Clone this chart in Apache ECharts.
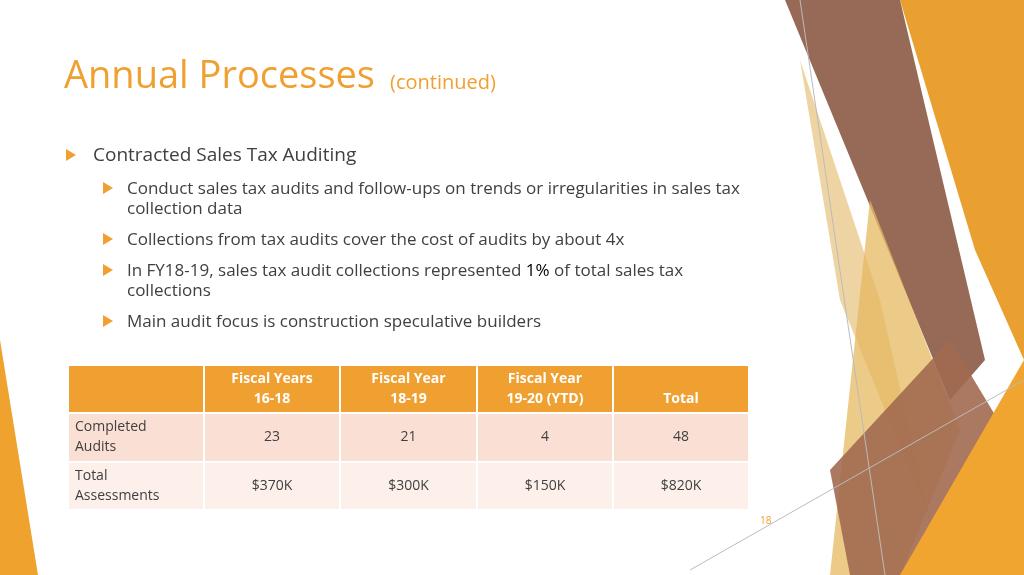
<!DOCTYPE html>
<html><head><meta charset="utf-8">
<script src="https://cdn.jsdelivr.net/npm/echarts@6/dist/echarts.min.js"></script>
<style>html,body{margin:0;padding:0;background:#fff}#c{width:1024px;height:575px}</style>
</head><body><div id="c"></div>
<script>
var headers = ['', 'Fiscal Years\n16-18', 'Fiscal Year\n18-19', 'Fiscal Year\n19-20 (YTD)', 'Total'];
var rowLabels = ['Completed\nAudits', 'Total\nAssessments'];
var audits = ['23', '21', '4', '48'];
var assessments = ['$370K', '$300K', '$150K', '$820K'];
var bullets = [
  { level: 0, text: 'Contracted Sales Tax Auditing' },
  { level: 1, text: 'Conduct sales tax audits and follow-ups on trends or irregularities in sales tax\ncollection data' },
  { level: 1, text: 'Collections from tax audits cover the cost of audits by about 4x' },
  { level: 1, text: 'In FY18-19, sales tax audit collections represented {k|1%} of total sales tax\ncollections' },
  { level: 1, text: 'Main audit focus is construction speculative builders' }
];

var chart = echarts.init(document.getElementById('c'));
var orange = '#F0A030', font = '"Open Sans", "Noto Sans", sans-serif';
var g = [];

// decorative shapes
function poly(pts, fill, op) {
  g.push({ type: 'polygon', shape: { points: pts }, style: { fill: fill, opacity: op || 1 }, silent: true });
}
poly([[0, 340], [38, 575], [0, 575]], '#EFA22E');
poly([[900, 0], [1024, 0], [1024, 360], [975, 250]], '#E9A030');
poly([[785, 0], [900, 0], [985, 360], [950, 400]], '#8B5A45', 0.9);
poly([[800, 60], [880, 300], [930, 520], [840, 300]], '#E7C27A', 0.7);
poly([[870, 200], [960, 430], [900, 575], [830, 575]], '#E6B860', 0.75);
poly([[830, 470], [950, 340], [1010, 440], [920, 575], [850, 575]], '#A26A50', 0.9);
poly([[900, 575], [1024, 360], [1024, 575]], '#EFA530');
g.push({ type: 'line', shape: { x1: 690, y1: 570, x2: 1024, y2: 380 }, style: { stroke: '#bbb', lineWidth: 1 }, silent: true });
g.push({ type: 'line', shape: { x1: 800, y1: 0, x2: 885, y2: 575 }, style: { stroke: '#bbb', lineWidth: 1 }, silent: true });

// title
g.push({ type: 'text', left: 64, top: 58, style: { text: 'Annual Processes', fill: orange, font: '38px ' + font } });
g.push({ type: 'text', left: 390, top: 73, style: { text: '(continued)', fill: orange, font: '20px ' + font } });

// bullets
var y = 148;
bullets.forEach(function (b, i) {
  var tx = b.level ? 103 : 66, x = b.level ? 127 : 93, size = b.level ? 17 : 19;
  g.push({ type: 'polygon', shape: { points: [[tx, y + 1], [tx + 10, y + 7], [tx, y + 13]] }, style: { fill: orange } });
  g.push({ type: 'text', x: x, y: y - 2, style: {
    text: b.text, fill: '#404040', font: size + 'px ' + font, lineHeight: 20,
    rich: { k: { fill: '#000', font: size + 'px ' + font } } } });
  var lines = b.text.split('\n').length;
  y += (i === 0 ? 33 : lines * 20 + 11);
});

// table
var colX = [68, 204, 340, 477, 613, 749];
var rowY = [365, 413, 462, 510];
var fills = [orange, '#FAE0D4', '#FDF0EA'];
var rows = [headers, [rowLabels[0]].concat(audits), [rowLabels[1]].concat(assessments)];
rows.forEach(function (row, r) {
  row.forEach(function (txt, c) {
    var x0 = colX[c], y0 = rowY[r], w = colX[c + 1] - x0, h = rowY[r + 1] - y0;
    g.push({ type: 'rect', shape: { x: x0, y: y0, width: w, height: h }, style: { fill: fills[r], stroke: '#fff', lineWidth: 2 } });
    var header = r === 0, left = c === 0;
    var tyy = header ? (c === 4 ? y0 + 34 : y0 + 24) : y0 + h / 2;
    g.push({ type: 'text', x: left ? x0 + 7 : x0 + w / 2, y: tyy, style: {
      text: txt, fill: header ? '#fff' : '#404040', align: left ? 'left' : 'center',
      verticalAlign: 'middle', lineHeight: 20,
      font: (header ? 'bold ' : '') + '14px ' + font } });
  });
});

g.push({ type: 'text', x: 760, y: 516, style: { text: '18', fill: orange, font: '10px ' + font } });

chart.setOption({ animation: false, graphic: g });
</script></body></html>
